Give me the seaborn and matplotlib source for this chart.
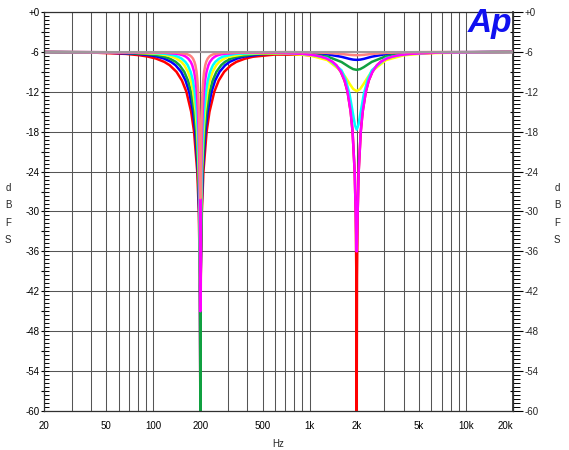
import numpy as np
import pandas as pd
import matplotlib
matplotlib.use("Agg")
import matplotlib.pyplot as plt
from matplotlib.ticker import FixedLocator, NullFormatter
import seaborn as sns

# ---------------- data ----------------
red_hz = [20, 40.9, 66.6, 81.5, 92.2, 104.0, 117.6, 127.3, 140.8, 152.5, 162.9, 174.7, 182.3, 191.1, 195.5, 198.6,
          200, 201.4, 204.6, 209.3, 219.4, 228.9, 245.6, 262.3, 284.0, 314.1, 340.0, 384.7, 433.8, 597.8, 911.4,
          1071, 1176, 1285, 1403, 1482, 1587, 1674, 1749, 1831, 1883, 1942, 1971, 1991, 2000, 2009, 2030, 2060,
          2124, 2184, 2288, 2389, 2520, 2699, 2851, 3113, 3400, 3734, 4389, 6693, 20000]
red_db = [-6.02, -6.1, -6.3, -6.5, -6.7, -7, -7.5, -8, -9, -10.3, -12, -15, -18, -24, -30, -40,
          -60, -40, -30, -24, -18, -15, -12, -10.3, -9, -8, -7.5, -7.03, -6.73, -6.4, -6.42,
          -6.58, -6.77, -7.06, -7.55, -8.04, -9.04, -10.33, -12, -15, -18, -24, -30, -40, -60, -40, -30, -24,
          -18, -15, -12, -10.3, -9, -8, -7.5, -7, -6.7, -6.5, -6.3, -6.1, -6.0]

blue_hz = [20, 50.1, 79.0, 94.8, 105.6, 117.1, 129.9, 138.8, 150.8, 160.8, 169.6, 179.5, 185.7, 192.9, 196.4, 198.9,
           200, 201.1, 203.6, 207.4, 215.4, 222.9, 235.8, 248.7, 265.3, 288.2, 307.9, 341.7, 378.8, 500, 700,
           1000, 1300, 1600, 1800, 1900, 2000, 2105, 2222, 2500, 3077, 4000, 5714, 20000]
blue_db = [-6.01, -6.1, -6.3, -6.5, -6.7, -7, -7.5, -8, -9, -10.3, -12, -15, -18, -24, -30, -40,
           -60, -40, -30, -24, -18, -15, -12, -10.3, -9, -8, -7.5, -7.02, -6.72, -6.34, -6.19,
           -6.2, -6.37, -6.74, -7.05, -7.16, -7.2, -7.16, -7.05, -6.72, -6.33, -6.14, -6.06, -6.0]

green_hz = [20, 58.6, 89.7, 105.7, 116.3, 127.2, 139.2, 147.2, 157.9, 166.7, 174.3, 182.7, 188.0, 194.0, 197.0, 199.05,
            200, 200.95, 203.0, 206.1, 212.7, 218.9, 229.5, 239.9, 253.4, 271.7, 287.4, 314.4, 344.0, 445.8, 700,
            1000, 1300, 1600, 1800, 1900, 2000, 2105, 2222, 2500, 3077, 4000, 5714, 20000]
green_db = [-6.01, -6.1, -6.3, -6.5, -6.7, -7, -7.5, -8, -9, -10.3, -12, -15, -18, -24, -30, -40,
            -60, -40, -30, -24, -18, -15, -12, -10.3, -9, -8, -7.5, -7.01, -6.72, -6.34, -6.2,
            -6.32, -6.69, -7.52, -8.29, -8.59, -8.7, -8.59, -8.29, -7.5, -6.66, -6.28, -6.11, -6.0]

yellow_hz = [20, 72.8, 105.9, 121.4, 131.1, 140.9, 151.2, 158.0, 166.8, 174.0, 180.0, 186.7, 190.8, 195.4, 197.7, 199.27,
             200, 200.73, 202.3, 204.7, 209.7, 214.3, 222.2, 229.9, 239.7, 253.1, 264.5, 283.8, 305.0, 377.8, 500,
             700, 1000, 1300, 1600, 1700, 1800, 1900, 2000, 2105, 2222, 2353, 2500, 3077, 4000, 5714, 20000]
yellow_db = [-6.0, -6.1, -6.3, -6.5, -6.7, -7, -7.5, -8, -9, -10.3, -12, -15, -18, -24, -30, -40,
             -42, -40, -30, -24, -18, -15, -12, -10.3, -9, -8, -7.5, -7.02, -6.73, -6.35, -6.22,
             -6.25, -6.53, -7.24, -8.93, -9.83, -10.77, -11.58, -11.9, -11.58, -10.77, -9.82, -8.92, -7.23, -6.51,
             -6.19, -6.0]

cyan_hz = [20, 86.7, 119.9, 134.3, 143.0, 151.6, 160.4, 166.1, 173.4, 179.2, 184.1, 189.5, 192.7, 196.4, 198.2, 199.43,
           200, 200.57, 201.8, 203.7, 207.6, 211.1, 217.2, 223.2, 230.7, 240.8, 249.4, 263.9, 279.7, 333.6, 500,
           700, 1000, 1300, 1600, 1700, 1800, 1900, 1950, 2000, 2051, 2105, 2222, 2353, 2500, 3077, 4000, 5714, 20000]
cyan_db = [-6.0, -6.1, -6.3, -6.5, -6.7, -7, -7.5, -8, -9, -10.3, -12, -15, -18, -24, -30, -40,
           -43, -40, -30, -24, -18, -15, -12, -10.3, -9, -8, -7.5, -7.0, -6.7, -6.31, -6.14,
           -6.17, -6.37, -6.94, -8.77, -10.15, -12.33, -15.48, -17.02, -17.7, -17.02, -15.48, -12.33, -10.15,
           -8.76, -6.93, -6.36, -6.13, -6.0]

magenta_hz = [20, 113.7, 143.3, 154.6, 161.2, 167.4, 173.7, 177.6, 182.6, 186.5, 189.7, 193.2, 195.3, 197.7, 198.85,
              199.64, 200, 200.36, 201.15, 202.3, 204.8, 207.0, 210.8, 214.5, 219.1, 225.2, 230.3, 238.9, 248.1,
              258.7, 279.2, 351.9, 597.8, 911.4, 1071, 1176, 1285, 1403, 1482, 1587, 1674, 1749, 1831, 1883, 1942,
              1971, 2000, 2030, 2060, 2124, 2184, 2288, 2389, 2520, 2699, 2851, 3113, 3400, 3734, 4389, 6693, 20000]
magenta_db = [-6.0, -6.1, -6.3, -6.5, -6.7, -7, -7.5, -8, -9, -10.3, -12, -15, -18, -24, -30,
              -40, -45, -40, -30, -24, -18, -15, -12, -10.3, -9, -8, -7.5, -7, -6.7,
              -6.5, -6.3, -6.12, -6.12, -6.3, -6.5, -6.7, -7, -7.5, -8, -9, -10.3, -12, -15, -18, -24,
              -30, -36, -30, -24, -18, -15, -12, -10.3, -9, -8, -7.5, -7, -6.7, -6.5, -6.3, -6.1, -6.0]

salmon_hz = [20, 140.0, 162.7, 170.7, 175.2, 179.4, 183.4, 186.0, 189.2, 191.6, 193.7, 195.8, 197.1, 198.6, 200,
             201.4, 202.9, 204.3, 206.5, 208.7, 211.4, 215.1, 218.0, 223.0, 228.3, 234.3, 245.8, 285.6, 700,
             1000, 1300, 1600, 1800, 1900, 2000, 2105, 2222, 2500, 3077, 4000, 5714, 20000]
salmon_db = [-6.0, -6.1, -6.3, -6.5, -6.7, -7, -7.5, -8, -9, -10.3, -12, -15, -18, -24, -28,
             -24, -18, -15, -12, -10.3, -9, -8, -7.5, -7, -6.7, -6.5, -6.3, -6.1, -6.03,
             -6.06, -6.15, -6.31, -6.44, -6.48, -6.5, -6.48, -6.44, -6.31, -6.15, -6.06, -6.03, -6.0]

flat_hz = [20, 20000]
flat_db = [-6.0, -6.0]

trace_names = ["red", "blue", "green", "yellow", "cyan", "magenta", "salmon"]
trace_colors = ["#ff0000", "#0000ff", "#10a040", "#ffff00", "#00ffff", "#ff00ff", "#ff8080"]

xtick_values = [20, 50, 100, 200, 500, 1000, 2000, 5000, 10000, 20000]
xtick_labels = ["20", "50", "100", "200", "500", "1k", "2k", "5k", "10k", "20k"]
xgrid_values = [30, 40, 50, 60, 70, 80, 90, 100, 200, 300, 400, 500, 600, 700, 800, 900,
                1000, 2000, 3000, 4000, 5000, 6000, 7000, 8000, 9000, 10000]
ytick_values = [0, -6, -12, -18, -24, -30, -36, -42, -48, -54, -60]
ytick_labels = ["+0", "-6", "-12", "-18", "-24", "-30", "-36", "-42", "-48", "-54", "-60"]
ymid_values = [-3, -9, -15, -21, -27, -33, -39, -45, -51, -57]

# ---------------- figure ----------------
sns.set_theme(style="white")
plt.rcParams["font.family"] = ["Liberation Sans", "DejaVu Sans"]

W, H = 569, 450
PX = 0.72  # points per pixel at 100 dpi
fig = plt.figure(figsize=(W / 100, H / 100), dpi=100)
fig.patch.set_facecolor("white")
L, R, T, B = 44, 513, 12, 411
ax = fig.add_axes([L / W, 1 - B / H, (R - L) / W, (B - T) / H])
ax.set_facecolor("white")

series = {
    "red": (red_hz, red_db), "blue": (blue_hz, blue_db), "green": (green_hz, green_db),
    "yellow": (yellow_hz, yellow_db), "cyan": (cyan_hz, cyan_db),
    "magenta": (magenta_hz, magenta_db), "salmon": (salmon_hz, salmon_db),
}
frames = []
for name in trace_names:
    hz, db = series[name]
    frames.append(pd.DataFrame({"Hz": hz, "dBFS": db, "trace": name}))
df = pd.concat(frames, ignore_index=True)

sns.lineplot(data=df, x="Hz", y="dBFS", hue="trace", hue_order=trace_names,
             palette=dict(zip(trace_names, trace_colors)), estimator=None, sort=False,
             legend=False, linewidth=1.8, ax=ax)
sns.lineplot(x=flat_hz, y=flat_db, color="#a0989c", linewidth=1.5, estimator=None,
             sort=False, legend=False, ax=ax)

ax.set_xscale("log")
ax.set_xlim(20, 20000)
ax.set_ylim(-60, 0)
ax.set_axisbelow(True)

GRID = "#555555"
ax.xaxis.set_major_locator(FixedLocator(xtick_values))
ax.set_xticklabels(xtick_labels)
ax.xaxis.set_minor_locator(FixedLocator(xgrid_values))
ax.xaxis.set_minor_formatter(NullFormatter())
ax.grid(which="both", axis="x", color=GRID, linewidth=0.75)
ax.tick_params(axis="x", which="both", length=0, pad=7, labelsize=7, colors="black")
ax.get_xticklabels()[-1].set_horizontalalignment("right")

ax.set_yticks(ytick_values, ytick_labels)
ax.yaxis.set_minor_locator(FixedLocator(np.arange(0, -60.01, -0.6)))
ax.yaxis.remove_overlapping_locs = False
ax.grid(which="major", axis="y", color=GRID, linewidth=0.75)
ax.tick_params(axis="y", which="major", direction="out", length=3 * PX, width=0.8,
               pad=1, labelsize=7, left=True, right=False, colors="black")
ax.tick_params(axis="y", which="minor", direction="in", length=5 * PX, width=0.7,
               left=True, right=False, color="black")

for s in ax.spines.values():
    s.set_color("#303030")
    s.set_linewidth(0.9)

# left outward mid ticks
secl = ax.secondary_yaxis("left")
secl.set_yticks(ymid_values, [""] * len(ymid_values))
secl.tick_params(axis="y", direction="out", length=3 * PX, width=0.8, color="black")
secl.spines["left"].set_visible(False)

# right axis: labels + outward ticks
secr = ax.secondary_yaxis("right")
secr.set_yticks(ytick_values, ytick_labels)
secr.yaxis.set_minor_locator(FixedLocator(np.arange(0, -60.01, -0.6)))
secr.yaxis.remove_overlapping_locs = False
secr.tick_params(axis="y", which="major", direction="out", length=10 * PX, width=0.8,
                 pad=1, labelsize=7, color="black")
secr.tick_params(axis="y", which="minor", direction="out", length=7 * PX, width=0.7, color="black")
secr.spines["right"].set_color("#303030")

# right inward mid ticks
secr2 = ax.secondary_yaxis("right")
secr2.set_yticks(ymid_values, [""] * len(ymid_values))
secr2.tick_params(axis="y", direction="in", length=3 * PX, width=0.8, color="black")
secr2.spines["right"].set_visible(False)

ax.set_xlabel("Hz", fontsize=7, labelpad=6)
ax.set_ylabel("")

fig.text(8 / W, 1 - 214 / H, "d\nB\nF\nS", ha="center", va="center", fontsize=7, linespacing=1.9)
fig.text(557 / W, 1 - 214 / H, "d\nB\nF\nS", ha="center", va="center", fontsize=7, linespacing=1.9)

fig.text(512 / W, 1 - 32 / H, "Ap", ha="right", va="baseline", fontsize=24,
         fontweight="bold", fontstyle="italic", color="#1010f0", zorder=10)

fig.savefig("out.png", dpi=100, facecolor="white")
